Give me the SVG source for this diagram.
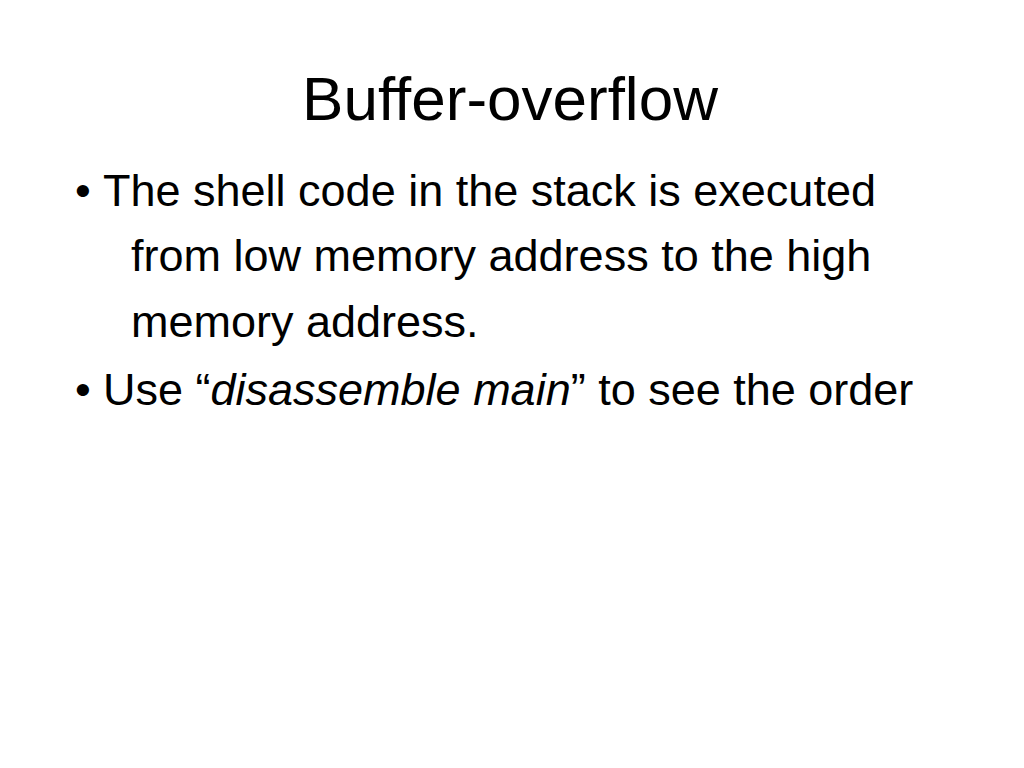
<svg xmlns="http://www.w3.org/2000/svg" width="1024" height="768" viewBox="0 0 1024 768">
<style>
text{font-family:"Liberation Sans",Arial,sans-serif;fill:#000}
.b{font-size:45px}
</style>
<rect width="1024" height="768" fill="#fff"/>
<text x="510" y="120" font-size="62" text-anchor="middle">Buffer-overflow</text>
<g class="b">
<text x="75" y="206">•</text>
<text x="103" y="206">The shell code in the stack is executed</text>
<text x="131" y="271">from low memory address to the high</text>
<text x="131" y="337">memory address.</text>
<text x="75" y="405">•</text>
<text x="103" y="405">Use “<tspan font-style="italic">disassemble main</tspan>” to see the order</text>
</g>
</svg>
